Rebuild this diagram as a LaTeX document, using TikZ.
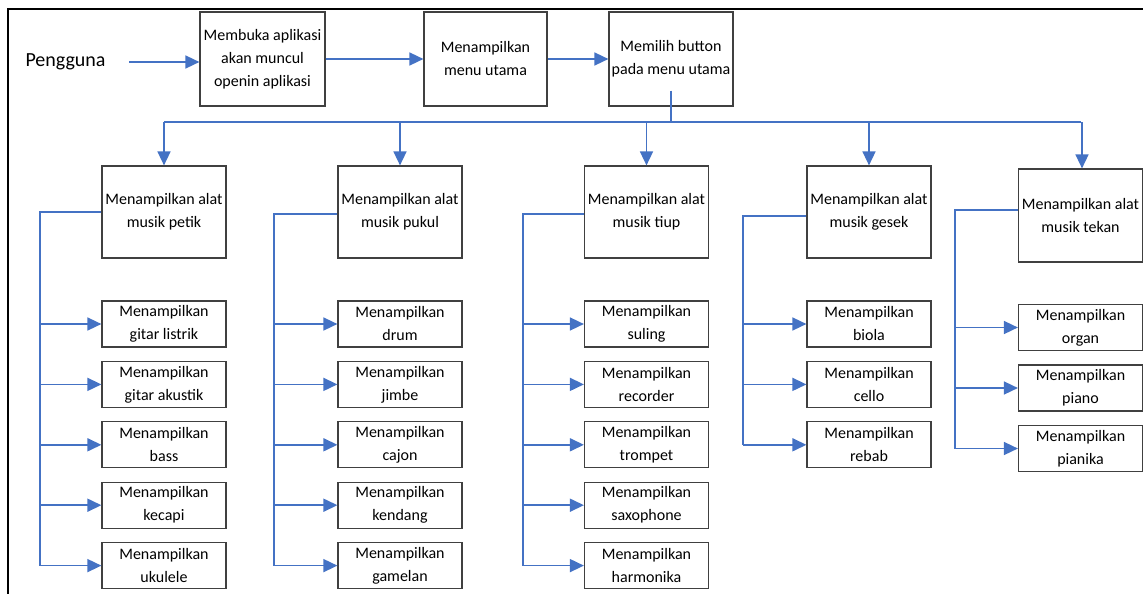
\documentclass[tikz,border=0pt]{standalone}
\usepackage{fontspec}
\setmainfont{Carlito}
\usetikzlibrary{arrows.meta}
\definecolor{garis}{RGB}{68,114,196}
\tikzset{
  kotak/.style={draw=black!75, line width=1.2pt, align=center, inner sep=1pt,
    minimum width=124pt, minimum height=92pt, font=\fontsize{16}{23}\selectfont},
  kecil/.style={kotak, minimum height=46pt},
  jalur/.style={draw=garis, line width=1.6pt},
  alur/.style={jalur, -{Triangle[length=14pt,width=13pt]}},
}
\begin{document}
\begin{tikzpicture}[x=1pt,y=-1pt]
  \useasboundingbox (0,0) rectangle (1143,594);
  \draw[line width=2pt] (1143,9) -- (8,9) -- (8,594);

  % baris atas
  \node[anchor=west, font=\fontsize{20}{24}\selectfont] (peng) at (22,62) {Pengguna};
  \node[kotak, minimum width=125pt, minimum height=94pt] (buka) at (262.5,59) {Membuka aplikasi\\akan muncul\\openin aplikasi};
  \node[kotak, minimum width=123pt, minimum height=94pt] (menu) at (485.5,59) {Menampilkan\\menu utama};
  \node[kotak, minimum height=94pt] (pilih) at (671,59) {Memilih button\\pada menu utama};

  % jenis alat musik
  \node[kotak] (petik) at (164,212) {Menampilkan alat\\musik petik};
  \node[kotak] (pukul) at (400,212) {Menampilkan alat\\musik pukul};
  \node[kotak] (tiup) at (646.5,212) {Menampilkan alat\\musik tiup};
  \node[kotak] (gesek) at (869,212) {Menampilkan alat\\musik gesek};
  \node[kotak, minimum height=93pt] (tekan) at (1080.5,215.5) {Menampilkan alat\\musik tekan};

  % petik
  \node[kecil] (gitarL) at (164,324) {Menampilkan\\gitar listrik};
  \node[kecil] (gitarA) at (164,384.4) {Menampilkan\\gitar akustik};
  \node[kecil] (bass) at (164,444.8) {Menampilkan\\bass};
  \node[kecil] (kecapi) at (164,505.2) {Menampilkan\\kecapi};
  \node[kecil] (ukulele) at (164,565.6) {Menampilkan\\ukulele};
  % pukul
  \node[kecil] (drum) at (400,324) {Menampilkan\\drum};
  \node[kecil] (jimbe) at (400,384.4) {Menampilkan\\jimbe};
  \node[kecil] (cajon) at (400,444.8) {Menampilkan\\cajon};
  \node[kecil] (kendang) at (400,505.2) {Menampilkan\\kendang};
  \node[kecil] (gamelan) at (400,565.6) {Menampilkan\\gamelan};
  % tiup
  \node[kecil] (suling) at (646.5,324) {Menampilkan\\suling};
  \node[kecil] (recorder) at (646.5,384.4) {Menampilkan\\recorder};
  \node[kecil] (trompet) at (646.5,444.8) {Menampilkan\\trompet};
  \node[kecil] (saxo) at (646.5,505.2) {Menampilkan\\saxophone};
  \node[kecil] (harmonika) at (646.5,565.6) {Menampilkan\\harmonika};
  % gesek
  \node[kecil] (biola) at (869,324) {Menampilkan\\biola};
  \node[kecil] (cello) at (869,384.4) {Menampilkan\\cello};
  \node[kecil] (rebab) at (869,444.8) {Menampilkan\\rebab};
  % tekan
  \node[kecil] (organ) at (1080.5,327.5) {Menampilkan\\organ};
  \node[kecil] (piano) at (1080.5,388) {Menampilkan\\piano};
  \node[kecil] (pianika) at (1080.5,448.5) {Menampilkan\\pianika};

  % alur atas
  \draw[alur] ([xshift=20pt]peng.east) -- (peng.east -| buka.west);
  \draw[alur] (buka) -- (menu); \draw[alur] (menu) -- (pilih);

  \coordinate (cabang) at (671,122);
  \draw[jalur] ([yshift=16pt]pilih.south) -- (cabang);
  \draw[jalur] (petik |- cabang) -- (tekan |- cabang);
  \draw[alur] (petik |- cabang) -- (petik); \draw[alur] (pukul |- cabang) -- (pukul);
  \draw[alur] (tiup |- cabang) -- (tiup); \draw[alur] (gesek |- cabang) -- (gesek);
  \draw[alur] ([xshift=1.5pt]tekan |- cabang) -- ([xshift=1.5pt]tekan.north);

  % cabang tiap jenis
  \coordinate (bpetik) at (40,212); \coordinate (bpukul) at (274,214);
  \coordinate (btiup) at (523,214); \coordinate (bgesek) at (743,216);
  \coordinate (btekan) at (955,210);

  \draw[jalur] (petik.west |- bpetik) -- (bpetik) -- (bpetik |- ukulele);
  \draw[alur] (bpetik |- gitarL) -- (gitarL); \draw[alur] (bpetik |- gitarA) -- (gitarA);
  \draw[alur] (bpetik |- bass) -- (bass); \draw[alur] (bpetik |- kecapi) -- (kecapi);
  \draw[alur] (bpetik |- ukulele) -- (ukulele);

  \draw[jalur] (pukul.west |- bpukul) -- (bpukul) -- (bpukul |- gamelan);
  \draw[alur] (bpukul |- drum) -- (drum); \draw[alur] (bpukul |- jimbe) -- (jimbe);
  \draw[alur] (bpukul |- cajon) -- (cajon); \draw[alur] (bpukul |- kendang) -- (kendang);
  \draw[alur] (bpukul |- gamelan) -- (gamelan);

  \draw[jalur] (tiup.west |- btiup) -- (btiup) -- (btiup |- harmonika);
  \draw[alur] (btiup |- suling) -- (suling); \draw[alur] (btiup |- recorder) -- (recorder);
  \draw[alur] (btiup |- trompet) -- (trompet); \draw[alur] (btiup |- saxo) -- (saxo);
  \draw[alur] (btiup |- harmonika) -- (harmonika);

  \draw[jalur] (gesek.west |- bgesek) -- (bgesek) -- (bgesek |- rebab);
  \draw[alur] (bgesek |- biola) -- (biola); \draw[alur] (bgesek |- cello) -- (cello);
  \draw[alur] (bgesek |- rebab) -- (rebab);

  \draw[jalur] (tekan.west |- btekan) -- (btekan) -- (btekan |- pianika);
  \draw[alur] (btekan |- organ) -- (organ); \draw[alur] (btekan |- piano) -- (piano);
  \draw[alur] (btekan |- pianika) -- (pianika);
\end{tikzpicture}
\end{document}
